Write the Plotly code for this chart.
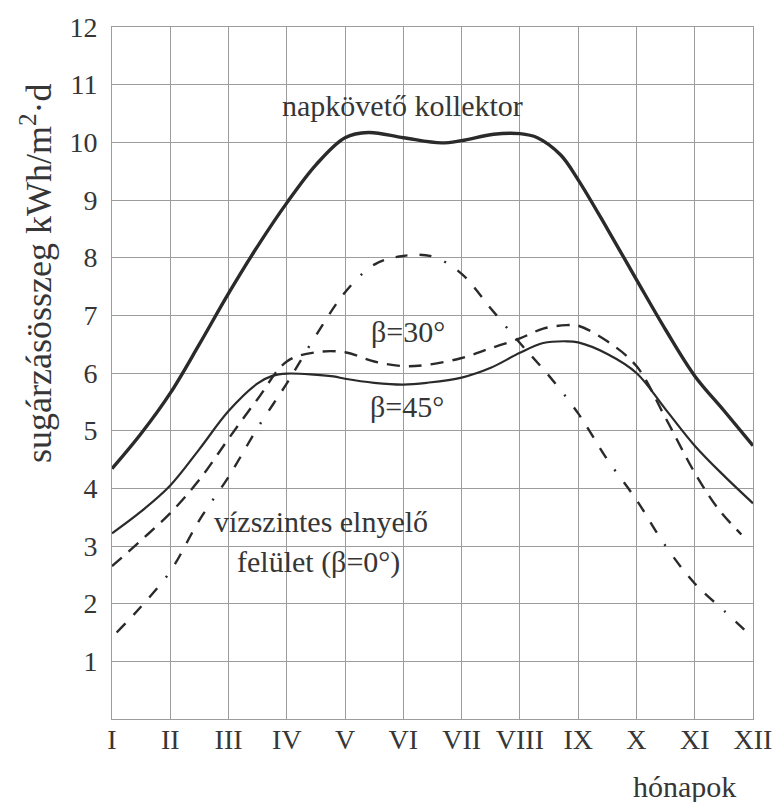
import plotly.graph_objects as go

# ---- data ----
months = ["I", "II", "III", "IV", "V", "VI", "VII", "VIII", "IX", "X", "XI", "XII"]
month_pos = list(range(1, 13))
y_ticks = list(range(1, 13))

# napkövető kollektor (tracking collector)
track_x = [1, 1.5, 2, 2.5, 3, 3.5, 4, 4.5, 5, 5.4, 6, 6.65, 7, 7.55, 8, 8.3, 8.7, 9, 9.5, 10, 10.5, 11, 11.5, 12]
track_y = [4.34, 4.95, 5.65, 6.5, 7.38, 8.2, 8.95, 9.61, 10.08, 10.17, 10.08, 9.99, 10.03, 10.14, 10.15, 10.08, 9.78, 9.35, 8.5, 7.62, 6.75, 5.95, 5.35, 4.74]

# beta = 45 deg
b45_x = [1, 1.5, 2, 2.5, 3, 3.5, 3.75, 4, 4.8, 5, 5.5, 6, 6.4, 7, 7.5, 8, 8.4, 8.8, 9, 9.5, 10, 10.5, 11, 11.5, 12]
b45_y = [3.22, 3.6, 4.05, 4.68, 5.34, 5.82, 5.95, 5.99, 5.94, 5.9, 5.83, 5.80, 5.83, 5.92, 6.09, 6.35, 6.52, 6.55, 6.53, 6.33, 6.0, 5.37, 4.74, 4.22, 3.74]

# beta = 30 deg
b30_x = [1, 1.5, 2, 2.5, 3, 3.5, 4, 4.5, 5, 5.5, 6, 6.4, 7, 7.5, 8, 8.4, 8.8, 9, 9.5, 10, 10.5, 11, 11.4, 11.8]
b30_y = [2.65, 3.1, 3.57, 4.15, 4.86, 5.55, 6.2, 6.36, 6.36, 6.2, 6.12, 6.14, 6.26, 6.43, 6.60, 6.77, 6.83, 6.82, 6.55, 6.12, 5.22, 4.27, 3.65, 3.2]

# vízszintes elnyelő felület (beta = 0 deg)
b0_x = [1.08, 1.5, 2, 2.5, 3, 3.5, 4, 4.5, 5, 5.5, 6, 6.5, 7, 7.5, 8, 8.5, 9, 9.5, 10, 10.5, 11, 11.5, 11.85]
b0_y = [1.5, 1.95, 2.56, 3.45, 4.2, 5.05, 5.82, 6.65, 7.4, 7.88, 8.03, 8.02, 7.72, 7.12, 6.52, 5.95, 5.3, 4.5, 3.8, 3.0, 2.35, 1.88, 1.55]

FONT = "Liberation Serif"
INK = "#2a2a2a"
TXT = "#363636"
GRID = "#9c9c9c"

fig = go.Figure()
fig.add_trace(go.Scatter(x=track_x, y=track_y, mode="lines",
                         line=dict(color=INK, width=3.4, shape="spline", smoothing=1.0),
                         name="napkövető kollektor", showlegend=False))
fig.add_trace(go.Scatter(x=b45_x, y=b45_y, mode="lines",
                         line=dict(color=INK, width=2.2, shape="spline", smoothing=1.0),
                         name="β=45°", showlegend=False))
fig.add_trace(go.Scatter(x=b30_x, y=b30_y, mode="lines",
                         line=dict(color=INK, width=2.4, shape="spline", smoothing=1.0, dash="13px,9px"),
                         name="β=30°", showlegend=False))
fig.add_trace(go.Scatter(x=b0_x, y=b0_y, mode="lines",
                         line=dict(color=INK, width=2.4, shape="spline", smoothing=1.0,
                                   dash="12px,12px,12px,12px,12px,14px,2px,14px"),
                         name="β=0°", showlegend=False))

ann_font = dict(family=FONT, size=30, color=TXT)
annotations = [
    dict(x=5.985, y=10.64, xref="x", yref="y", text="napkövető kollektor", showarrow=False,
         font=ann_font, xanchor="center", yanchor="middle"),
    dict(x=6.08, y=6.72, xref="x", yref="y", text="β=30°", showarrow=False,
         font=ann_font, xanchor="center", yanchor="middle"),
    dict(x=6.06, y=5.42, xref="x", yref="y", text="β=45°", showarrow=False,
         font=ann_font, xanchor="center", yanchor="middle"),
    dict(x=4.59, y=3.42, xref="x", yref="y", text="vízszintes elnyelő", showarrow=False,
         font=ann_font, xanchor="center", yanchor="middle"),
    dict(x=4.55, y=2.72, xref="x", yref="y", text="felület (β=0°)", showarrow=False,
         font=ann_font, xanchor="center", yanchor="middle"),
    dict(x=10.82, y=-0.097, xref="x", yref="paper", text="hónapok", showarrow=False,
         font=ann_font, xanchor="center", yanchor="middle"),
    dict(x=-0.118, y=7.74, xref="paper", yref="y", text="sugárzásösszeg kWh/m<sup>2</sup>·d",
         showarrow=False, textangle=-90,
         font=dict(family=FONT, size=36, color=TXT), xanchor="center", yanchor="middle"),
]

fig.update_layout(
    width=784, height=802, autosize=False,
    margin=dict(l=112, r=25, t=21, b=83, pad=0),
    paper_bgcolor="white", plot_bgcolor="white",
    annotations=annotations,
    showlegend=False,
    font=dict(family=FONT, color=TXT),
)
fig.update_xaxes(range=[1, 12], tickmode="array", tickvals=month_pos, ticktext=months,
                 showgrid=True, gridcolor=GRID, gridwidth=1, zeroline=False,
                 showline=True, linecolor=GRID, linewidth=1, mirror=True,
                 ticks="", ticklabelstandoff=-5,
                 tickfont=dict(family=FONT, size=28, color=TXT))
fig.update_yaxes(range=[0, 12], tickmode="array", tickvals=y_ticks, ticktext=[str(v) for v in y_ticks],
                 showgrid=True, gridcolor=GRID, gridwidth=1, zeroline=False,
                 showline=True, linecolor=GRID, linewidth=1, mirror=True,
                 ticks="", ticklabelstandoff=8,
                 tickfont=dict(family=FONT, size=28, color=TXT))

fig.write_html("out.html")
